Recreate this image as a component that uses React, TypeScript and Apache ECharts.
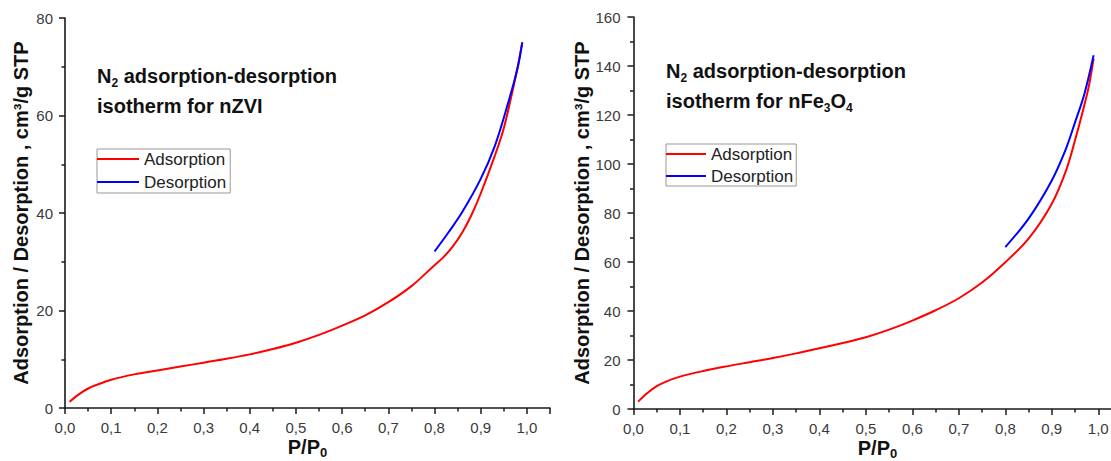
import React, { useEffect, useRef } from "react";
import * as echarts from "echarts";

// nZVI
const P_NZVI_ADS = [0.01, 0.03, 0.05, 0.07, 0.1, 0.15, 0.2, 0.25, 0.3, 0.35, 0.4, 0.45, 0.5, 0.55, 0.6, 0.65, 0.7, 0.75, 0.8, 0.82, 0.84, 0.86, 0.88, 0.9, 0.93, 0.95, 0.97, 0.98, 0.99];
const V_NZVI_ADS = [1.3, 2.8, 4.0, 4.8, 5.8, 6.9, 7.7, 8.5, 9.3, 10.1, 11.0, 12.1, 13.4, 15.0, 16.9, 19.0, 21.7, 25.0, 29.3, 31.0, 33.2, 36.0, 39.6, 44.0, 51.6, 57.4, 65.5, 70.0, 75.0];
const P_NZVI_DES = [0.8, 0.83, 0.86, 0.9, 0.93, 0.96, 0.98, 0.99];
const V_NZVI_DES = [32.1, 36.0, 40.2, 47.0, 53.6, 62.8, 69.8, 75.0];

// nFe3O4
const P_FE_ADS = [0.01, 0.03, 0.05, 0.07, 0.1, 0.15, 0.2, 0.25, 0.3, 0.35, 0.4, 0.45, 0.5, 0.55, 0.6, 0.65, 0.7, 0.75, 0.8, 0.85, 0.9, 0.93, 0.95, 0.97, 0.98, 0.99];
const V_FE_ADS = [3.0, 6.5, 9.3, 11.2, 13.2, 15.5, 17.4, 19.1, 20.8, 22.7, 24.8, 26.9, 29.3, 32.4, 36.1, 40.3, 45.2, 51.6, 59.9, 69.5, 83.8, 97.0, 109.7, 124.0, 132.0, 143.0];
const P_FE_DES = [0.8, 0.85, 0.9, 0.93, 0.95, 0.97, 0.99];
const V_FE_DES = [66.1, 77.7, 93.3, 106.0, 117.0, 128.5, 144.4];

const X_TICKS_MAX = 1.05;
const Y_MAX_LEFT = 80;
const Y_MAX_RIGHT = 160;
const Y_NAME = "Adsorption / Desorption , cm³/g STP";
const TITLE_LEFT_1 = "{b|N}{s|2}{b| adsorption-desorption}";
const TITLE_LEFT_2 = "{b|isotherm for nZVI}";
const TITLE_RIGHT_1 = "{b|N}{s|2}{b| adsorption-desorption}";
const TITLE_RIGHT_2 = "{b|isotherm for nFe}{s|3}{b|O}{s|4}";
const LEGEND_NAMES = ["Adsorption", "Desorption"];

const FONT = "'Liberation Sans', Arial, Helvetica, sans-serif";
const AXIS_COLOR = "#1a1a1a";
const LABEL_COLOR = "#3a3a3a";

const zip = (xs: number[], ys: number[]) => xs.map((x, i) => [x, ys[i]]);

function xAxisCfg(gridIndex: number) {
  return {
    type: "value",
    gridIndex,
    min: 0,
    max: X_TICKS_MAX,
    interval: 0.1,
    name: "{a|P/P}{s|0}",
    nameLocation: "middle",
    nameGap: 27,
    nameMoveOverlap: false,
    nameTextStyle: {
      rich: {
        a: { fontFamily: FONT, fontSize: 20, fontWeight: "bold", color: "#111", lineHeight: 24, verticalAlign: "middle" },
        s: { fontFamily: FONT, fontSize: 13, fontWeight: "bold", color: "#111", lineHeight: 15, verticalAlign: "bottom" },
      },
    },
    axisLine: { show: true, onZero: false, lineStyle: { color: AXIS_COLOR, width: 1.6 } },
    axisTick: { show: true, inside: false, length: 6, lineStyle: { color: AXIS_COLOR, width: 1.5 } },
    minorTick: { show: true, splitNumber: 2, length: 3.5, lineStyle: { color: AXIS_COLOR, width: 1.5 } },
    splitLine: { show: false },
    minorSplitLine: { show: false },
    axisLabel: {
      show: true,
      margin: 12,
      fontFamily: FONT,
      fontSize: 15,
      color: LABEL_COLOR,
      showMaxLabel: false,
      formatter: (v: number) => v.toFixed(1).replace(".", ","),
    },
  };
}

function yAxisCfg(gridIndex: number, max: number, gap: number, margin: number) {
  return {
    type: "value",
    gridIndex,
    min: 0,
    max,
    interval: 20,
    name: Y_NAME,
    nameLocation: "middle",
    nameGap: gap,
    nameTextStyle: { fontFamily: FONT, fontSize: 20, fontWeight: "bold", color: "#111" },
    axisLine: { show: true, onZero: false, lineStyle: { color: AXIS_COLOR, width: 1.6 } },
    axisTick: { show: true, inside: false, length: 6, lineStyle: { color: AXIS_COLOR, width: 1.5 } },
    minorTick: { show: true, splitNumber: 2, length: 3.5, lineStyle: { color: AXIS_COLOR, width: 1.5 } },
    splitLine: { show: false },
    minorSplitLine: { show: false },
    axisLabel: { show: true, margin, fontFamily: FONT, fontSize: 15, color: LABEL_COLOR },
  };
}

const titleRich = {
  b: { fontFamily: FONT, fontSize: 20, fontWeight: "bold", color: "#111", lineHeight: 30, verticalAlign: "middle" },
  s: { fontFamily: FONT, fontSize: 12, fontWeight: "bold", color: "#111", lineHeight: 30, verticalAlign: "bottom", padding: [0, 0, 2, 0] },
};

function lineSeries(name: string, color: string, xi: number, data: number[][]) {
  return {
    type: "line",
    name,
    xAxisIndex: xi,
    yAxisIndex: xi,
    data,
    smooth: 0.35,
    symbol: "none",
    showSymbol: false,
    lineStyle: { color, width: 2 },
    itemStyle: { color },
  };
}

export default function App() {
  const ref = useRef<HTMLDivElement>(null);
  useEffect(() => {
    if (!ref.current) return;
    const chart = echarts.init(ref.current, undefined, { renderer: "svg" });
    const legendCommon = {
      orient: "vertical",
      selectedMode: false,
      icon: "rect",
      itemWidth: 42,
      itemHeight: 2,
      itemGap: 5,
      borderColor: "#999",
      borderWidth: 1,
      backgroundColor: "#fff",
      data: LEGEND_NAMES,
      textStyle: { fontFamily: FONT, fontSize: 17, color: "#222", lineHeight: 18 },
    };
    chart.setOption({
      animation: false,
      backgroundColor: "#fff",
      title: [
        { text: TITLE_LEFT_1 + "\n" + TITLE_LEFT_2, left: 97, top: 61, padding: 0, textStyle: { rich: titleRich } },
        { text: TITLE_RIGHT_1 + "\n" + TITLE_RIGHT_2, left: 666, top: 56, padding: 0, textStyle: { rich: titleRich } },
      ],
      legend: [
        { ...legendCommon, left: 97, top: 149, padding: [1, 4, 2, 0] },
        { ...legendCommon, left: 666, top: 144, itemWidth: 40, itemGap: 4, padding: [1, 3, 1, 0] },
      ],
      grid: [
        { left: 65, top: 18, width: 485, height: 390, containLabel: false, outerBoundsMode: "none" },
        { left: 633.5, top: 17, width: 488, height: 392, containLabel: false, outerBoundsMode: "none" },
      ],
      xAxis: [xAxisCfg(0), xAxisCfg(1)],
      yAxis: [yAxisCfg(0, Y_MAX_LEFT, 34, 12), yAxisCfg(1, Y_MAX_RIGHT, 42, 13)],
      series: [
        lineSeries("Adsorption", "#ff0000", 0, zip(P_NZVI_ADS, V_NZVI_ADS)),
        lineSeries("Desorption", "#0000ff", 0, zip(P_NZVI_DES, V_NZVI_DES)),
        lineSeries("Adsorption", "#ff0000", 1, zip(P_FE_ADS, V_FE_ADS)),
        lineSeries("Desorption", "#0000ff", 1, zip(P_FE_DES, V_FE_DES)),
      ],
    });
    return () => chart.dispose();
  }, []);
  return (
    <div
      ref={ref}
      style={{ position: "fixed", left: 0, top: 0, width: 1111, height: 461, background: "#fff" }}
    />
  );
}
